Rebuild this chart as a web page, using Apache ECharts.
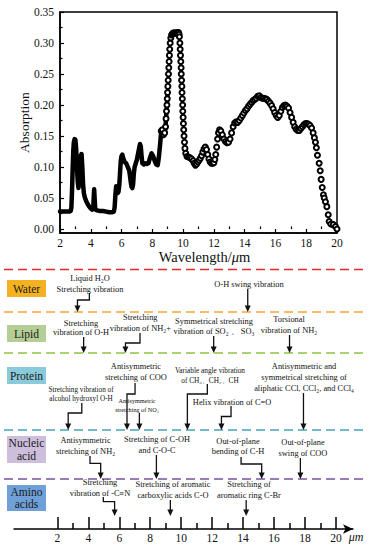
<!DOCTYPE html>
<html><head><meta charset="utf-8">
<script src="https://cdn.jsdelivr.net/npm/echarts@6/dist/echarts.min.js"></script>
<style>html,body{margin:0;padding:0;background:#fff}#c{width:372px;height:550px}</style>
</head><body><div id="c"></div>
<script>
// ---------- DATA ----------
const wavelength = [2.0,2.2,2.4,2.6,2.7,2.74,2.78,2.82,2.86,2.9,2.95,3.0,3.05,3.1,3.15,3.2,3.25,3.3,3.35,3.4,3.45,3.5,3.55,3.6,3.7,3.8,3.9,4.0,4.1,4.16,4.19,4.22,4.25,4.29,4.4,4.6,4.8,5.0,5.2,5.4,5.5,5.55,5.6,5.65,5.7,5.75,5.8,5.85,5.9,5.95,6.0,6.05,6.1,6.2,6.3,6.4,6.5,6.55,6.6,6.65,6.7,6.75,6.8,6.85,6.9,7.0,7.1,7.2,7.25,7.3,7.35,7.45,7.55,7.65,7.75,7.85,7.95,8.05,8.15,8.25,8.35,8.42,8.5,8.58,8.65,8.72,8.8,8.86,8.89,8.92,8.95,8.97,8.99,9.01,9.03,9.05,9.07,9.09,9.11,9.13,9.16,9.2,9.25,9.3,9.35,9.4,9.45,9.5,9.55,9.6,9.65,9.7,9.74,9.76,9.79,9.81,9.83,9.85,9.87,9.88,9.9,9.92,9.93,9.95,9.97,9.98,10.0,10.02,10.04,10.06,10.09,10.12,10.17,10.25,10.35,10.45,10.55,10.65,10.72,10.8,10.88,10.96,11.04,11.12,11.2,11.28,11.36,11.44,11.52,11.6,11.68,11.76,11.84,11.92,12.0,12.06,12.12,12.18,12.24,12.3,12.37,12.45,12.55,12.65,12.75,12.85,12.95,13.05,13.15,13.25,13.35,13.45,13.55,13.65,13.75,13.85,13.95,14.05,14.15,14.25,14.35,14.45,14.55,14.65,14.75,14.85,14.95,15.05,15.15,15.25,15.35,15.45,15.55,15.65,15.75,15.85,15.95,16.05,16.15,16.25,16.35,16.45,16.55,16.65,16.75,16.85,16.95,17.05,17.15,17.25,17.35,17.45,17.55,17.65,17.75,17.85,17.95,18.05,18.15,18.25,18.35,18.45,18.53,18.6,18.66,18.73,18.84,18.91,18.97,19.04,19.12,19.17,19.25,19.34,19.43,19.49,19.6,19.76,19.9,20.0];
const absorption = [0.028,0.028,0.028,0.028,0.029,0.035,0.06,0.095,0.125,0.14,0.145,0.144,0.13,0.1,0.077,0.066,0.075,0.1,0.118,0.121,0.1,0.072,0.058,0.052,0.045,0.04,0.036,0.033,0.031,0.032,0.05,0.064,0.05,0.032,0.03,0.029,0.029,0.028,0.027,0.027,0.028,0.035,0.055,0.069,0.066,0.058,0.06,0.07,0.09,0.11,0.118,0.12,0.115,0.108,0.106,0.1,0.094,0.085,0.075,0.068,0.066,0.072,0.09,0.1,0.104,0.112,0.125,0.137,0.133,0.118,0.106,0.104,0.106,0.105,0.106,0.115,0.122,0.118,0.11,0.104,0.103,0.115,0.135,0.158,0.16,0.152,0.155,0.165,0.178,0.19,0.2,0.21,0.22,0.23,0.24,0.25,0.26,0.27,0.28,0.29,0.3,0.308,0.313,0.315,0.316,0.316,0.316,0.316,0.316,0.316,0.317,0.317,0.314,0.31,0.3,0.29,0.28,0.27,0.26,0.25,0.24,0.23,0.22,0.21,0.2,0.19,0.18,0.17,0.16,0.15,0.14,0.13,0.122,0.117,0.116,0.115,0.113,0.11,0.106,0.103,0.105,0.108,0.111,0.114,0.118,0.124,0.129,0.132,0.128,0.12,0.113,0.108,0.106,0.106,0.107,0.112,0.12,0.132,0.145,0.155,0.16,0.158,0.152,0.145,0.141,0.139,0.14,0.145,0.155,0.165,0.171,0.173,0.172,0.175,0.179,0.183,0.187,0.191,0.194,0.198,0.201,0.204,0.207,0.209,0.211,0.214,0.215,0.212,0.211,0.211,0.21,0.209,0.206,0.203,0.199,0.194,0.188,0.183,0.18,0.183,0.19,0.196,0.199,0.2,0.198,0.195,0.188,0.18,0.172,0.165,0.161,0.159,0.159,0.162,0.165,0.168,0.17,0.17,0.169,0.167,0.163,0.155,0.147,0.14,0.131,0.119,0.106,0.094,0.08,0.067,0.055,0.05,0.044,0.036,0.023,0.012,0.008,0.007,0.004,0.0];

const yTickValues = [0, 0.05, 0.10, 0.15, 0.20, 0.25, 0.30, 0.35];
const yMinorTickValues = [0.025, 0.075, 0.125, 0.175, 0.225, 0.275, 0.325];
const xTickValues = [2, 4, 6, 8, 10, 12, 14, 16, 18, 20];
const xMinorTickValues = [3, 5, 7, 9, 11, 13, 15, 17, 19];

const groups = ['Water', 'Lipid', 'Protein', 'Nucleic\nacid', 'Amino\nacids'];
const bandText = [
  'Liquid H\u2082O\nStretching vibration',
  'O-H swing vibration',
  'Stretching\nvibration of O-H',
  'Stretching\nvibration of NH\u2082+',
  'Symmetrical stretching\nvibration of SO\u2082 \u3001 SO\u2083',
  'Torsional\nvibration of NH\u2082',
  'Antisymmetric\nstretching of COO',
  'Antisymmetric\nstretching of NO\u2083',
  'Stretching vibration of\nalcohol hydroxyl O-H',
  'Variable angle vibration\nof CH\u2083\u3001CH\u2082\u3001CH',
  'Helix vibration of C=O',
  'Antisymmetric and\nsymmetrical stretching of\naliphatic CCl, CCl\u2082, and CCl\u2084',
  'Antisymmetric\nstretching of NH\u2082',
  'Stretching of C-OH\nand C-O-C',
  'Out-of-plane\nbending of C-H',
  'Out-of-plane\nswing of COO',
  'Stretching\nvibration of -C\u2261N',
  'Stretching of aromatic\ncarboxylic acids C-O',
  'Stretching of\naromatic ring C-Br'
];
const bandWavelength = [3.3, 14.3, 3.7, 6.4, 12.1, 17.0, 6.5, 7.3, 2.7, 10.4, 12.6, 17.9, 4.8, 8.4, 15.2, 17.7, 5.7, 9.3, 14.2];
const bandGroup = [0, 0, 1, 1, 1, 1, 2, 2, 2, 2, 2, 2, 3, 3, 3, 3, 4, 4, 4];

// ---------- LAYOUT (positions / styles only) ----------
const FONT = 'Liberation Serif, Times New Roman, serif';
const groupColors = ['#f4b223', '#b4ce95', '#8bcadb', '#cdbfdc', '#6fa0d8'];
const groupBox = [[280, 17], [325, 17], [367, 17], [436, 27], [485, 26]];
const dividerY = [269.5, 312, 353, 430, 479];
const dividerColor = ['#e8282b', '#f4a834', '#8cc540', '#44a3bb', '#7a51a0'];
const groupTipY = [312, 353, 430, 479, 516];
// tx: text centre (axis units), ty: first line y, lh: line gap, fs: font size,
// sx/sy: arrow start, ey: elbow y (null = straight)
const annotLayout = [
  {tx: 4.11, ty: 278, lh: 11, fs: 8.4, sx: 4.07, sy: 293, ey: 300},
  {tx: 14.38, ty: 284, lh: 11, fs: 8.4, sy: 289, ey: null},
  {tx: 3.53, ty: 323, lh: 9.5, fs: 8.4, sy: 337, ey: null},
  {tx: 7.36, ty: 317, lh: 11, fs: 8.4, sx: 7.34, sy: 333, ey: 343},
  {tx: 12.12, ty: 321, lh: 10.7, fs: 8.4, sy: 336, ey: null},
  {tx: 16.97, ty: 319, lh: 11.5, fs: 8.4, sy: 335, ey: null},
  {tx: 7.08, ty: 366, lh: 11.5, fs: 8.4, sx: 7.02, sy: 383, ey: 394},
  {tx: 7.15, ty: 400, lh: 9.3, fs: 6.2, sy: 413, ey: null},
  {tx: 3.53, ty: 390, lh: 9.3, fs: 7.2, sx: 3.58, sy: 403, ey: 413},
  {tx: 11.86, ty: 370, lh: 10, fs: 7.3, sx: 11.69, sy: 384, ey: 394},
  {tx: 13.29, ty: 402, lh: 11, fs: 8.4, sx: 13.22, sy: 406, ey: 416.5},
  {tx: 17.94, ty: 366.7, lh: 10.8, fs: 8.4, sy: 393, ey: null},
  {tx: 3.82, ty: 440, lh: 11, fs: 8.4, sx: 4.11, sy: 456, ey: 463.3},
  {tx: 8.44, ty: 439.3, lh: 10.7, fs: 8.4, sy: 455, ey: null},
  {tx: 13.67, ty: 441.7, lh: 10, fs: 8.4, sx: 13.87, sy: 457, ey: 464},
  {tx: 17.87, ty: 442.7, lh: 10.6, fs: 8.4, sy: 458, ey: null},
  {tx: 4.76, ty: 482.7, lh: 10.6, fs: 8.4, sx: 4.97, sy: 497, ey: 501.7},
  {tx: 9.47, ty: 484.3, lh: 10.7, fs: 8.4, sy: 500, ey: null},
  {tx: 14.38, ty: 484.3, lh: 10.7, fs: 8.4, sy: 500, ey: null}
];

// ---------- BUILD ----------
const allPts = wavelength.map((w, i) => [w, absorption[i]]);
const densePts = allPts.filter(p => p[0] <= 9.0);
const circlePts = allPts.filter(p => p[0] >= 8.55);

function renderAnnot(params, api) {
  const i = params.dataIndex;
  const L = annotLayout[i];
  const px = v => api.coord([v, 0])[0];
  const tipX = px(api.value(0));
  const tipY = groupTipY[bandGroup[i]];
  const children = [];
  const cx = px(L.tx);
  bandText[i].split('\n').forEach((t, k) => {
    children.push({type: 'text', style: {text: t, x: cx, y: L.ty + k * L.lh,
      align: 'center', verticalAlign: 'middle', fontFamily: FONT, fontSize: L.fs, fill: '#111'}});
  });
  let pts;
  if (L.ey == null) pts = [[tipX, L.sy], [tipX, tipY - 5]];
  else { const sx = px(L.sx); pts = [[sx, L.sy], [sx, L.ey], [tipX, L.ey], [tipX, tipY - 5]]; }
  children.push({type: 'polyline', shape: {points: pts}, style: {stroke: '#111', lineWidth: 1.3, fill: null}});
  children.push({type: 'polygon', shape: {points: [[tipX - 3, tipY - 6.5], [tipX + 3, tipY - 6.5], [tipX, tipY]]}, style: {fill: '#111'}});
  return {type: 'group', children};
}

const graphics = [];
dividerY.forEach((y, i) => graphics.push({type: 'line', shape: {x1: 4, y1: y, x2: 368, y2: y},
  style: {stroke: dividerColor[i], lineWidth: 1.6, lineDash: [9, 5]}, z: 1}));
groups.forEach((g, i) => {
  const [y, h] = groupBox[i];
  graphics.push({type: 'rect', shape: {x: 7, y: y, width: 39, height: h}, style: {fill: groupColors[i]}, z: 2});
  graphics.push({type: 'text', style: {text: g, x: 26.5, y: y + h / 2, align: 'center', verticalAlign: 'middle',
    fontFamily: FONT, fontSize: 11.5, fill: '#1a1a1a', lineHeight: 12.5}, z: 3});
});
graphics.push({type: 'text', style: {text: '\u03bcm', x: 356, y: 537, align: 'center', verticalAlign: 'middle',
  fontFamily: FONT, fontSize: 12, fontStyle: 'italic', fill: '#111'}});

const axisFont = {fontFamily: FONT, color: '#111'};
const chart = echarts.init(document.getElementById('c'), null, {renderer: 'svg'});
chart.setOption({
  backgroundColor: '#fff',
  animation: false,
  textStyle: {fontFamily: FONT},
  grid: [
    {left: 60, top: 12, width: 277, height: 221, show: true, borderColor: '#000', borderWidth: 1.5, backgroundColor: 'transparent', outerBoundsMode: 'none'},
    {left: 14, top: 262, width: 339, height: 267, outerBoundsMode: 'none'}
  ],
  xAxis: [
    {type: 'value', gridIndex: 0, min: 2, max: 20, name: 'Wavelength/{i|\u03bc}m', nameLocation: 'middle', nameGap: 16, nameMoveOverlap: false,
      nameTextStyle: {fontFamily: FONT, fontSize: 14.5, color: '#111', padding: [0, 0, 0, 12], rich: {i: {fontStyle: 'italic', fontFamily: FONT, fontSize: 14.5, color: '#111'}}},
      axisLine: {show: true, onZero: false, lineStyle: {color: '#000', width: 1.5}},
      axisTick: {show: true, inside: true, length: 4, customValues: xTickValues, lineStyle: {color: '#000', width: 1.2}},
      axisLabel: {customValues: xTickValues, margin: 4, fontSize: 11.5, ...axisFont},
      splitLine: {show: false}},
    {type: 'value', gridIndex: 0, min: 2, max: 20, position: 'bottom',
      axisLine: {show: false}, axisLabel: {show: false}, splitLine: {show: false},
      axisTick: {show: true, inside: true, length: 2.5, customValues: xMinorTickValues, lineStyle: {color: '#000', width: 1.2}}},
    {type: 'value', gridIndex: 1, min: -0.8, max: 21.1, position: 'bottom',
      axisLine: {show: true, onZero: false, symbol: ['none', 'arrow'], symbolSize: [7, 10], lineStyle: {color: '#000', width: 1.5}},
      axisTick: {show: true, inside: true, length: 12, customValues: xTickValues, lineStyle: {color: '#000', width: 1.5}},
      axisLabel: {customValues: xTickValues, margin: 3, fontSize: 11.5, ...axisFont},
      splitLine: {show: false}},
    {type: 'value', gridIndex: 1, min: -0.8, max: 21.1, position: 'bottom',
      axisLine: {show: false}, axisLabel: {show: false}, splitLine: {show: false},
      axisTick: {show: true, inside: true, length: 6, customValues: xMinorTickValues, lineStyle: {color: '#000', width: 1.5}}}
  ],
  yAxis: [
    {type: 'value', gridIndex: 0, min: -0.0065, max: 0.35, name: 'Absorption', nameLocation: 'middle', nameGap: 29, nameMoveOverlap: false,
      nameTextStyle: {fontFamily: FONT, fontSize: 13.5, color: '#111'},
      axisLine: {show: true, onZero: false, lineStyle: {color: '#000', width: 1.5}},
      axisTick: {show: true, inside: true, length: 4, customValues: yTickValues, lineStyle: {color: '#000', width: 1.2}},
      axisLabel: {customValues: yTickValues, margin: 6, fontSize: 11.5, formatter: v => v.toFixed(2), ...axisFont},
      splitLine: {show: false}},
    {type: 'value', gridIndex: 0, min: -0.0065, max: 0.35, position: 'left',
      axisLine: {show: false}, axisLabel: {show: false}, splitLine: {show: false},
      axisTick: {show: true, inside: true, length: 2.5, customValues: yMinorTickValues, lineStyle: {color: '#000', width: 1.2}}},
    {type: 'value', gridIndex: 1, min: 0, max: 1, show: false}
  ],
  series: [
    {type: 'line', xAxisIndex: 0, yAxisIndex: 0, data: densePts, showSymbol: false, symbol: 'none',
      lineStyle: {color: '#000', width: 4.5, join: 'round', cap: 'round'}, z: 3},
    {type: 'line', xAxisIndex: 0, yAxisIndex: 0, data: circlePts, showSymbol: true, showAllSymbol: true,
      symbol: 'emptyCircle', symbolSize: 5, lineStyle: {width: 0, opacity: 0},
      itemStyle: {color: '#000', borderColor: '#000', borderWidth: 1.1}, z: 4},
    {type: 'custom', xAxisIndex: 2, yAxisIndex: 2, data: bandWavelength.map((w, i) => [w, i]),
      renderItem: renderAnnot, clip: false, z: 5}
  ],
  graphic: graphics
});
</script>
</body></html>
